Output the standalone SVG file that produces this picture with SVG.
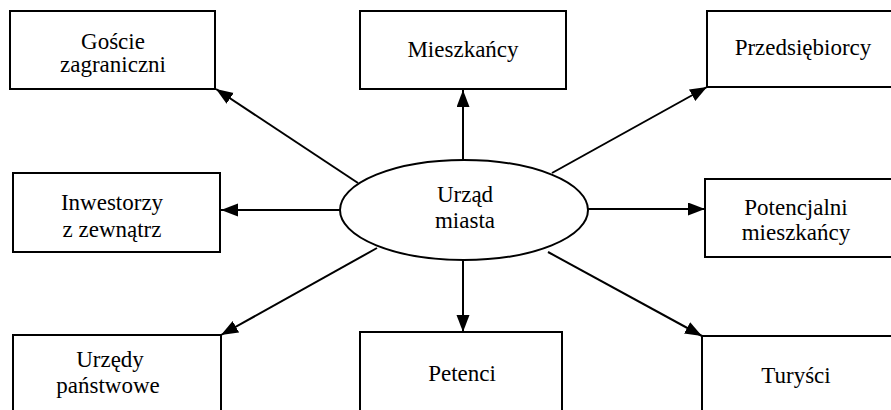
<svg xmlns="http://www.w3.org/2000/svg" width="891" height="410" viewBox="0 0 891 410">
<style>
.box{fill:#fff;stroke:#000;stroke-width:2}
text{font-family:'Liberation Serif','Times New Roman','DejaVu Serif',serif;font-size:23px;fill:#000;text-anchor:middle}
.c{stroke:#000;stroke-width:2;fill:none;marker-end:url(#ah)}
</style>
<defs>
<marker id="ah" markerUnits="userSpaceOnUse" markerWidth="18" markerHeight="14" refX="17" refY="6.5" orient="auto">
<path d="M0,0 L17,6.5 L0,13 z" fill="#000"/>
</marker>
</defs>
<rect width="891" height="410" fill="#fff"/>
<g id="connectors">
<line class="c" x1="358" y1="183" x2="216" y2="89"/>
<line class="c" x1="463" y1="160" x2="463" y2="90"/>
<line class="c" x1="552" y1="173" x2="707" y2="87"/>
<line class="c" x1="340" y1="210" x2="221" y2="210"/>
<line class="c" x1="588" y1="209" x2="705" y2="209"/>
<line class="c" x1="377" y1="248" x2="221" y2="335"/>
<line class="c" x1="463" y1="259" x2="463" y2="332"/>
<line class="c" x1="548" y1="252" x2="702" y2="336"/>
</g>
<g id="urzad">
<ellipse class="box" cx="464" cy="210" rx="124" ry="50"/>
<text x="465" y="202" font-family="Liberation Serif, serif">Urząd</text>
<text x="465" y="228" font-family="Liberation Serif, serif">miasta</text>
</g>
<g id="goscie">
<rect class="box" x="10" y="11" width="205" height="78"/>
<text x="113" y="49">Goście</text>
<text x="113" y="72">zagraniczni</text>
</g>
<g id="mieszkancy">
<rect class="box" x="360" y="11" width="206" height="78"/>
<text x="463" y="57">Mieszkańcy</text>
</g>
<g id="przedsiebiorcy">
<rect class="box" x="707" y="11" width="195" height="76"/>
<text x="803" y="55">Przedsiębiorcy</text>
</g>
<g id="inwestorzy">
<rect class="box" x="13" y="173" width="207" height="79"/>
<text x="112" y="210">Inwestorzy</text>
<text x="112" y="237">z zewnątrz</text>
</g>
<g id="potencjalni">
<rect class="box" x="705" y="179" width="195" height="78"/>
<text x="796" y="215">Potencjalni</text>
<text x="796" y="240">mieszkańcy</text>
</g>
<g id="urzedy">
<rect class="box" x="13" y="335" width="208" height="90"/>
<text x="110" y="367">Urzędy</text>
<text x="108" y="393">państwowe</text>
</g>
<g id="petenci">
<rect class="box" x="360" y="332" width="202" height="90"/>
<text x="462" y="381">Petenci</text>
</g>
<g id="turysci">
<rect class="box" x="702" y="336" width="200" height="90"/>
<text x="796" y="383">Turyści</text>
</g>
</svg>
